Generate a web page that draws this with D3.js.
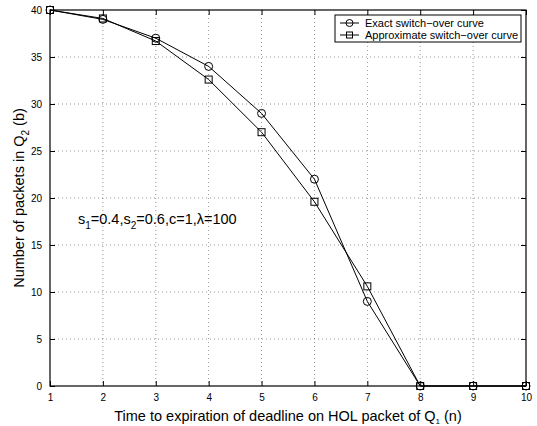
<!DOCTYPE html>
<html>
<head>
<meta charset="utf-8">
<title>Switch-over curve</title>
<style>
  body { margin: 0; background: #fff; }
  svg { display: block; font-family: "Liberation Sans", Arial, sans-serif; }
  .grid line { stroke: #000; stroke-width: 0.6; stroke-dasharray: 1 3; opacity: 0.7; }
  .tick text { font-size: 10px; fill: #000; }
</style>
</head>
<body>
<svg id="chart" width="537" height="426"></svg>
<script src="https://d3js.org/d3.v7.min.js"></script>
<script>
var nValues = [1, 2, 3, 4, 5, 6, 7, 8, 9, 10];
var exactCurve = [40, 39, 37, 34, 29, 22, 9, 0, 0, 0];
var approxCurve = [40, 39.1, 36.7, 32.6, 27, 19.6, 10.6, 0, 0, 0];
var xTicks = [1, 2, 3, 4, 5, 6, 7, 8, 9, 10];
var yTicks = [0, 5, 10, 15, 20, 25, 30, 35, 40];

var svg = d3.select("#chart"),
    margin = {top: 10, right: 11, bottom: 40, left: 50},
    width = 537 - margin.left - margin.right,
    height = 426 - margin.top - margin.bottom;

var x = d3.scaleLinear().domain([1, 10]).range([0, width]),
    y = d3.scaleLinear().domain([0, 40]).range([height, 0]);

var g = svg.append("g")
    .attr("transform", "translate(" + margin.left + "," + margin.top + ")");

// grid
var grid = g.append("g").attr("class", "grid");
grid.selectAll(".gx").data(xTicks.slice(1, -1)).enter().append("line")
    .attr("x1", d => x(d)).attr("x2", d => x(d))
    .attr("y1", 0).attr("y2", height);
grid.selectAll(".gy").data(yTicks.slice(1, -1)).enter().append("line")
    .attr("x1", 0).attr("x2", width)
    .attr("y1", d => y(d)).attr("y2", d => y(d));

// axes, ticks pointing inward like matlab
g.append("g")
    .attr("transform", "translate(0," + height + ")")
    .call(d3.axisBottom(x).tickValues(xTicks).tickSizeInner(-5).tickSizeOuter(0).tickPadding(8))
    .call(a => a.select(".domain").remove());
g.append("g")
    .call(d3.axisTop(x).tickValues(xTicks).tickSizeInner(-5).tickSizeOuter(0).tickFormat(""))
    .call(a => a.select(".domain").remove());
g.append("g")
    .call(d3.axisLeft(y).tickValues(yTicks).tickSizeInner(-5).tickSizeOuter(0).tickPadding(8))
    .call(a => a.select(".domain").remove());
g.append("g")
    .attr("transform", "translate(" + width + ",0)")
    .call(d3.axisRight(y).tickValues(yTicks).tickSizeInner(-5).tickSizeOuter(0).tickFormat(""))
    .call(a => a.select(".domain").remove());
g.selectAll(".tick line").attr("stroke", "#000");

g.append("rect")
    .attr("width", width).attr("height", height)
    .attr("fill", "none").attr("stroke", "#000").attr("stroke-width", 1.2);

var line = d3.line()
    .x((d, i) => x(nValues[i]))
    .y(d => y(d));

function drawSeries(vals, shape) {
  g.append("path").datum(vals)
      .attr("fill", "none").attr("stroke", "#000").attr("stroke-width", 1)
      .attr("d", line);
  var m = g.append("g");
  vals.forEach(function(v, i) {
    if (shape == "circle") {
      m.append("circle").attr("cx", x(nValues[i])).attr("cy", y(v)).attr("r", 4)
        .attr("fill", "none").attr("stroke", "#000");
    } else {
      m.append("rect").attr("x", x(nValues[i]) - 3.5).attr("y", y(v) - 3.5)
        .attr("width", 7).attr("height", 7)
        .attr("fill", "none").attr("stroke", "#000");
    }
  });
}
drawSeries(exactCurve, "circle");
drawSeries(approxCurve, "square");

// legend
var lg = svg.append("g").attr("transform", "translate(335,15)");
lg.append("rect").attr("width", 186).attr("height", 27)
    .attr("fill", "#fff").attr("stroke", "#000").attr("stroke-width", 1);
var items = [["Exact switch\u2212over curve", "circle"], ["Approximate switch\u2212over curve", "square"]];
items.forEach(function(it, i) {
  var yy = 8 + i * 12;
  lg.append("line").attr("x1", 5).attr("x2", 24).attr("y1", yy).attr("y2", yy).attr("stroke", "#000");
  if (it[1] == "circle") {
    lg.append("circle").attr("cx", 14.5).attr("cy", yy).attr("r", 3.5).attr("fill", "none").attr("stroke", "#000");
  } else {
    lg.append("rect").attr("x", 11.5).attr("y", yy - 3).attr("width", 6).attr("height", 6).attr("fill", "none").attr("stroke", "#000");
  }
  lg.append("text").attr("x", 30).attr("y", yy + 4).attr("font-size", "11px").text(it[0]);
});

// annotation
var ann = svg.append("text").attr("x", 78).attr("y", 224).attr("font-size", "14.5px");
ann.append("tspan").text("s");
ann.append("tspan").attr("dy", 5).attr("font-size", "10px").text("1");
ann.append("tspan").attr("dy", -5).text("=0.4,s");
ann.append("tspan").attr("dy", 5).attr("font-size", "10px").text("2");
ann.append("tspan").attr("dy", -5).text("=0.6,c=1,\u03bb=100");

// axis labels
var xl = svg.append("text").attr("x", margin.left + width / 2).attr("y", 421)
    .attr("text-anchor", "middle").attr("font-size", "14.5px");
xl.append("tspan").text("Time to expiration of deadline on HOL packet of Q");
xl.append("tspan").attr("dy", 3).attr("font-size", "8px").text("1");
xl.append("tspan").attr("dy", -3).text(" (n)");

var yl = svg.append("text").attr("transform", "translate(24," + (margin.top + height / 2) + ") rotate(-90)")
    .attr("text-anchor", "middle").attr("font-size", "14.5px");
yl.append("tspan").text("Number of packets in Q");
yl.append("tspan").attr("dy", 5).attr("font-size", "10px").text("2");
yl.append("tspan").attr("dy", -5).text(" (b)");
</script>
</body>
</html>
